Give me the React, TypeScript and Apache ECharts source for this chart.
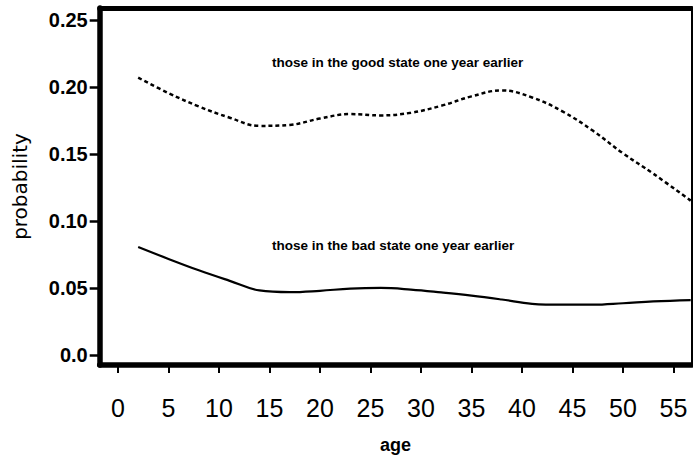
import React, { useEffect, useRef } from "react";
import * as echarts from "echarts";

const goodAges = [2, 5, 8, 11, 14, 17, 20, 23, 26, 29, 32, 35, 38, 41, 44, 47, 50, 53, 56.7];
const goodProb = [0.207, 0.1955, 0.1855, 0.1773, 0.171, 0.1717, 0.1765, 0.1798, 0.1788, 0.1808, 0.186, 0.193, 0.1975, 0.1922, 0.1818, 0.1675, 0.1505, 0.1353, 0.1152];

const badAges = [2, 5, 8, 11, 14, 17, 20, 23, 26, 29, 32, 35, 38, 41, 44, 47, 50, 53, 56.7];
const badProb = [0.0806, 0.0717, 0.0632, 0.0555, 0.0482, 0.0469, 0.0479, 0.0495, 0.05, 0.0488, 0.0467, 0.0443, 0.0414, 0.0382, 0.0375, 0.0375, 0.0386, 0.04, 0.041];

const xTicks = [0, 5, 10, 15, 20, 25, 30, 35, 40, 45, 50, 55];
const yTicks = [0, 0.05, 0.1, 0.15, 0.2, 0.25];

const goodLabel = "those in the good state one year earlier";
const badLabel = "those in the bad state one year earlier";

const FONT = "'Liberation Sans', Arial, Helvetica, sans-serif";
const WIDE = "'DejaVu Sans', 'Liberation Sans', sans-serif";

export default function App() {
  const ref = useRef<HTMLDivElement>(null);
  useEffect(() => {
    if (!ref.current) return;
    const chart = echarts.init(ref.current, undefined, { renderer: "svg" });
    const xMin = -1.81;
    const xMax = 56.78;
    const yMin = -0.0075;
    const yMax = 0.259;
    chart.setOption({
      animation: false,
      backgroundColor: "#fff",
      grid: { left: 99.7, top: 8, width: 591.8, height: 357, containLabel: false },
      xAxis: [
        {
          type: "value",
          position: "bottom",
          min: xMin,
          max: xMax,
          name: "age",
          nameLocation: "middle",
          nameGap: 71,
          nameTextStyle: { fontFamily: FONT, fontSize: 18, fontWeight: "bold", color: "#000" },
          axisLine: { show: true, onZero: false, lineStyle: { color: "#000", width: 5.5 } },
          axisTick: { show: true, customValues: xTicks, length: 8, lineStyle: { color: "#000", width: 2 } },
          axisLabel: {
            show: true,
            customValues: xTicks,
            margin: 30,
            fontFamily: FONT,
            fontSize: 25,
            color: "#000",
          },
          splitLine: { show: false },
        },
        {
          type: "value",
          position: "top",
          min: xMin,
          max: xMax,
          axisLine: { show: true, onZero: false, lineStyle: { color: "#000", width: 5 } },
          axisTick: { show: false },
          axisLabel: { show: false },
          splitLine: { show: false },
        },
      ],
      yAxis: [
        {
          type: "value",
          position: "left",
          min: yMin,
          max: yMax,
          name: "probability",
          nameLocation: "middle",
          nameRotate: 90,
          nameGap: 70,
          nameTextStyle: { fontFamily: WIDE, fontSize: 20, color: "#000" },
          axisLine: { show: true, onZero: false, lineStyle: { color: "#000", width: 5.5 } },
          axisTick: { show: true, customValues: yTicks, length: 10, lineStyle: { color: "#000", width: 2.5 } },
          axisLabel: {
            show: true,
            customValues: yTicks,
            margin: 12,
            fontFamily: FONT,
            fontSize: 20,
            fontWeight: "bold",
            color: "#000",
            formatter: (v: number) => (Math.abs(v) < 1e-9 ? "0.0" : v.toFixed(2)),
          },
          splitLine: { show: false },
        },
        {
          type: "value",
          position: "right",
          min: yMin,
          max: yMax,
          axisLine: { show: true, onZero: false, lineStyle: { color: "#000", width: 2 } },
          axisTick: { show: false },
          axisLabel: { show: false },
          splitLine: { show: false },
        },
      ],
      series: [
        {
          type: "line",
          name: "good",
          xAxisIndex: 0,
          yAxisIndex: 0,
          data: goodAges.map((a, i) => [a, goodProb[i]]),
          smooth: 0.4,
          showSymbol: false,
          symbol: "none",
          lineStyle: { color: "#000", width: 2.5, type: [4, 3] },
        },
        {
          type: "line",
          name: "bad",
          xAxisIndex: 0,
          yAxisIndex: 0,
          data: badAges.map((a, i) => [a, badProb[i]]),
          smooth: 0.4,
          showSymbol: false,
          symbol: "none",
          lineStyle: { color: "#000", width: 2.2, type: "solid" },
        },
      ],
      graphic: [
        {
          type: "text",
          left: 272,
          top: 55,
          style: { text: goodLabel, font: `bold 13.5px ${FONT}`, fill: "#000" },
        },
        {
          type: "text",
          left: 272,
          top: 238,
          style: { text: badLabel, font: `bold 13.5px ${FONT}`, fill: "#000" },
        },
      ],
    });
    return () => chart.dispose();
  }, []);
  return (
    <div
      ref={ref}
      style={{ position: "absolute", left: 0, top: 0, width: 693, height: 464 }}
    />
  );
}
